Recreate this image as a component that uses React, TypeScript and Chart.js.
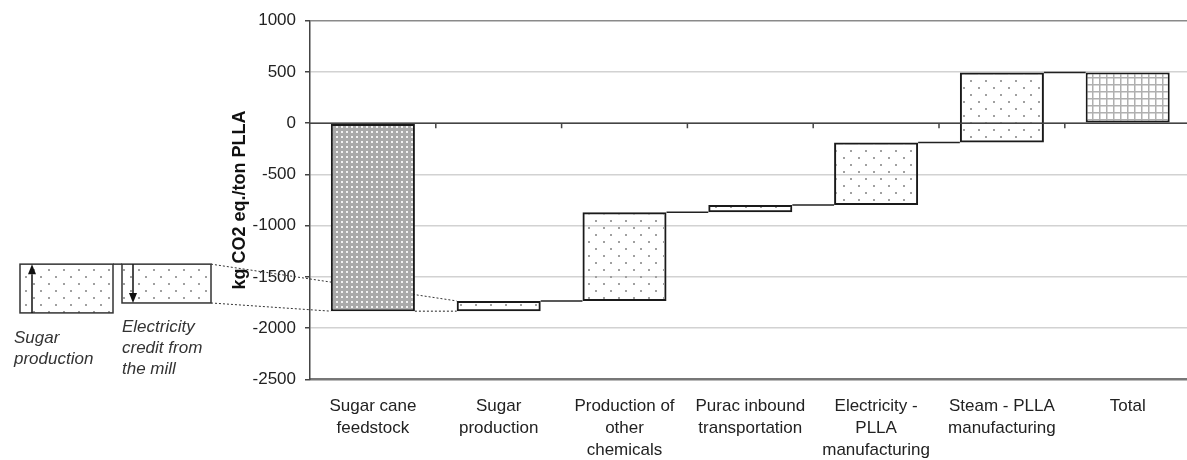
import React, { useEffect, useRef } from 'react';
import { Chart, registerables } from 'chart.js';

Chart.register(...registerables);

// ---------- data ----------
const categories: string[][] = [
  ['Sugar cane', 'feedstock'],
  ['Sugar', 'production'],
  ['Production of', 'other', 'chemicals'],
  ['Purac inbound', 'transportation'],
  ['Electricity -', 'PLLA', 'manufacturing'],
  ['Steam - PLLA', 'manufacturing'],
  ['Total'],
];
const barLow = [-1835, -1835, -1735, -870, -800, -190, 0];
const barHigh = [0, -1735, -870, -800, -190, 495, 495];
const yMin = -2500;
const yMax = 1000;
const yStep = 500;
const yAxisTitle = 'kg CO2 eq./ton PLLA';
const insetSugarLabel = ['Sugar', 'production'];
const insetCreditLabel = ['Electricity', 'credit from', 'the mill'];
const insetSugarProduction = [-1852, -1376];
const insetElectricityCredit = [-1376, -1755];

const FONT = '"Liberation Sans", Arial, Helvetica, sans-serif';

function makePattern(kind: string): CanvasPattern | string {
  const c = document.createElement('canvas');
  const g = c.getContext('2d');
  if (!g) return '#ccc';
  if (kind === 'cane') {
    c.width = 5; c.height = 5;
    g.fillStyle = '#a9a9a9';
    g.fillRect(0, 0, 5, 5);
    g.fillStyle = '#f2f2f2';
    g.fillRect(1, 1, 2, 2);
  } else if (kind === 'dots') {
    c.width = 15; c.height = 14;
    g.fillStyle = '#a0a0a0';
    g.fillRect(3, 3, 2, 2);
    g.fillRect(10, 10, 2, 2);
  } else {
    c.width = 7; c.height = 7;
    g.fillStyle = '#ffffff';
    g.fillRect(0, 0, 7, 7);
    g.fillStyle = '#b0b0b0';
    g.fillRect(0, 0, 7, 1.5);
    g.fillRect(0, 0, 1.5, 7);
  }
  return g.createPattern(c, 'repeat') || '#ccc';
}

function arrow(ctx: CanvasRenderingContext2D, x: number, yFrom: number, yTo: number) {
  const dir = yTo < yFrom ? -1 : 1;
  const head = 10;
  ctx.save();
  ctx.strokeStyle = '#111';
  ctx.fillStyle = '#111';
  ctx.lineWidth = 1.5;
  ctx.beginPath();
  ctx.moveTo(x, yFrom);
  ctx.lineTo(x, yTo - dir * head);
  ctx.stroke();
  ctx.beginPath();
  ctx.moveTo(x, yTo);
  ctx.lineTo(x - 4, yTo - dir * head);
  ctx.lineTo(x + 4, yTo - dir * head);
  ctx.closePath();
  ctx.fill();
  ctx.restore();
}

const overlayPlugin = {
  id: 'waterfallOverlay',
  beforeDatasetsDraw(chart: any) {
    const ctx: CanvasRenderingContext2D = chart.ctx;
    const ys = chart.scales.y;
    const bars = chart.getDatasetMeta(0).data;
    const leftOf = (i: number) => bars[i].x - bars[i].width / 2;
    const dotsPat = makePattern('dots');

    // inset boxes
    const b1 = { x0: 20, x1: 113, yTop: ys.getPixelForValue(insetSugarProduction[1]), yBot: ys.getPixelForValue(insetSugarProduction[0]) };
    const b2 = { x0: 122, x1: 211, yTop: ys.getPixelForValue(insetElectricityCredit[0]), yBot: ys.getPixelForValue(insetElectricityCredit[1]) };
    ctx.save();
    for (const b of [b1, b2]) {
      ctx.fillStyle = dotsPat as any;
      ctx.fillRect(b.x0, b.yTop, b.x1 - b.x0, b.yBot - b.yTop);
      ctx.strokeStyle = '#333';
      ctx.lineWidth = 1.5;
      ctx.strokeRect(b.x0, b.yTop, b.x1 - b.x0, b.yBot - b.yTop);
    }
    ctx.beginPath();
    ctx.moveTo(b1.x1, b1.yTop);
    ctx.lineTo(b2.x0, b2.yTop);
    ctx.stroke();
    arrow(ctx, b1.x0 + 12, b1.yBot, b1.yTop);
    arrow(ctx, b2.x0 + 11, b2.yTop, b2.yBot);

    // dotted leader lines
    ctx.strokeStyle = '#333';
    ctx.lineWidth = 1;
    ctx.setLineDash([2, 2]);
    ctx.beginPath();
    ctx.moveTo(b2.x1, b2.yTop);
    ctx.lineTo(leftOf(1), ys.getPixelForValue(barHigh[1]));
    ctx.moveTo(b2.x1, b2.yBot);
    ctx.lineTo(leftOf(0), ys.getPixelForValue(barLow[0]));
    ctx.stroke();
    ctx.setLineDash([]);

    // inset labels
    ctx.fillStyle = '#333';
    ctx.font = `italic 17px ${FONT}`;
    ctx.textAlign = 'left';
    ctx.textBaseline = 'alphabetic';
    insetSugarLabel.forEach((t, i) => ctx.fillText(t, 14, 343 + i * 21));
    insetCreditLabel.forEach((t, i) => ctx.fillText(t, 122, 332 + i * 21));
    ctx.restore();
  },
  afterDatasetsDraw(chart: any) {
    const ctx: CanvasRenderingContext2D = chart.ctx;
    const ys = chart.scales.y;
    const xs = chart.scales.x;
    const area = chart.chartArea;
    const bars = chart.getDatasetMeta(0).data;
    const leftOf = (i: number) => bars[i].x - bars[i].width / 2;
    const rightOf = (i: number) => bars[i].x + bars[i].width / 2;
    ctx.save();
    // zero line with category boundary ticks
    const y0 = ys.getPixelForValue(0);
    ctx.strokeStyle = '#444';
    ctx.lineWidth = 1.5;
    ctx.beginPath();
    ctx.moveTo(area.left, y0);
    ctx.lineTo(area.right, y0);
    for (let i = 1; i < categories.length; i++) {
      const bx = (xs.getPixelForValue(i - 1) + xs.getPixelForValue(i)) / 2;
      ctx.moveTo(bx, y0);
      ctx.lineTo(bx, y0 + 5);
    }
    ctx.stroke();

    // connectors
    ctx.strokeStyle = '#222';
    for (let i = 0; i < categories.length - 1; i++) {
      const level = i === 0 ? barLow[0] : barHigh[i];
      const yy = ys.getPixelForValue(level);
      if (i === 0) ctx.setLineDash([2, 2]); else ctx.setLineDash([]);
      ctx.lineWidth = i === 0 ? 1 : 1.5;
      ctx.beginPath();
      ctx.moveTo(rightOf(i), yy);
      ctx.lineTo(leftOf(i + 1), yy);
      ctx.stroke();
    }
    ctx.restore();
  },
};

export default function App() {
  const canvasRef = useRef<HTMLCanvasElement | null>(null);

  useEffect(() => {
    document.body.style.margin = '0';
    const canvas = canvasRef.current;
    if (!canvas) return;
    const kinds = categories.map((_, i) => (i === 0 ? 'cane' : i === categories.length - 1 ? 'grid' : 'dots'));
    const chart = new Chart(canvas, {
      type: 'bar',
      data: {
        labels: categories,
        datasets: [
          {
            data: categories.map((_, i) => [barLow[i], barHigh[i]]) as any,
            backgroundColor: kinds.map((k) => makePattern(k)) as any,
            borderColor: '#1a1a1a',
            borderWidth: 2,
            borderSkipped: false,
            barPercentage: 0.668,
            categoryPercentage: 1,
          },
        ],
      },
      options: {
        responsive: false,
        animation: false,
        devicePixelRatio: 1,
        layout: { padding: { left: 229, top: 20.7, right: 9.4, bottom: 0 } },
        plugins: { legend: { display: false }, tooltip: { enabled: false } },
        scales: {
          x: {
            type: 'category',
            offset: true,
            grid: { display: false, drawTicks: false },
            border: { display: true, color: '#777', width: 2 },
            ticks: {
              color: '#222',
              font: { size: 17, family: FONT, lineHeight: 1.3 },
              padding: 16,
              maxRotation: 0,
              autoSkip: false,
            },
            afterFit(scale: any) {
              scale.height = 80.7;
            },
          },
          y: {
            min: yMin,
            max: yMax,
            ticks: {
              stepSize: yStep,
              color: '#222',
              font: { size: 17, family: FONT },
              padding: 9,
              callback: (v: any) => String(v),
            },
            grid: {
              color: (c: any) => {
                const v = c.tick && c.tick.value;
                if (v === yMax) return '#8a8a8a';
                if (v === yMin) return '#777';
                return '#d2d2d2';
              },
              lineWidth: 1.5,
              tickColor: '#444',
              tickLength: 5,
              tickWidth: 1.5,
            },
            border: { display: true, color: '#444', width: 1.5 },
            title: {
              display: true,
              text: yAxisTitle,
              color: '#111',
              font: { size: 18, weight: 'bold', family: FONT },
              padding: 0,
            },
            afterFit(scale: any) {
              scale.width = 81;
            },
          },
        },
      },
      plugins: [overlayPlugin],
    });
    return () => chart.destroy();
  }, []);

  return (
    <div style={{ width: 1187, height: 460, overflow: 'hidden', background: '#fff' }}>
      <canvas ref={canvasRef} width={1200} height={460} style={{ display: 'block' }} />
    </div>
  );
}
